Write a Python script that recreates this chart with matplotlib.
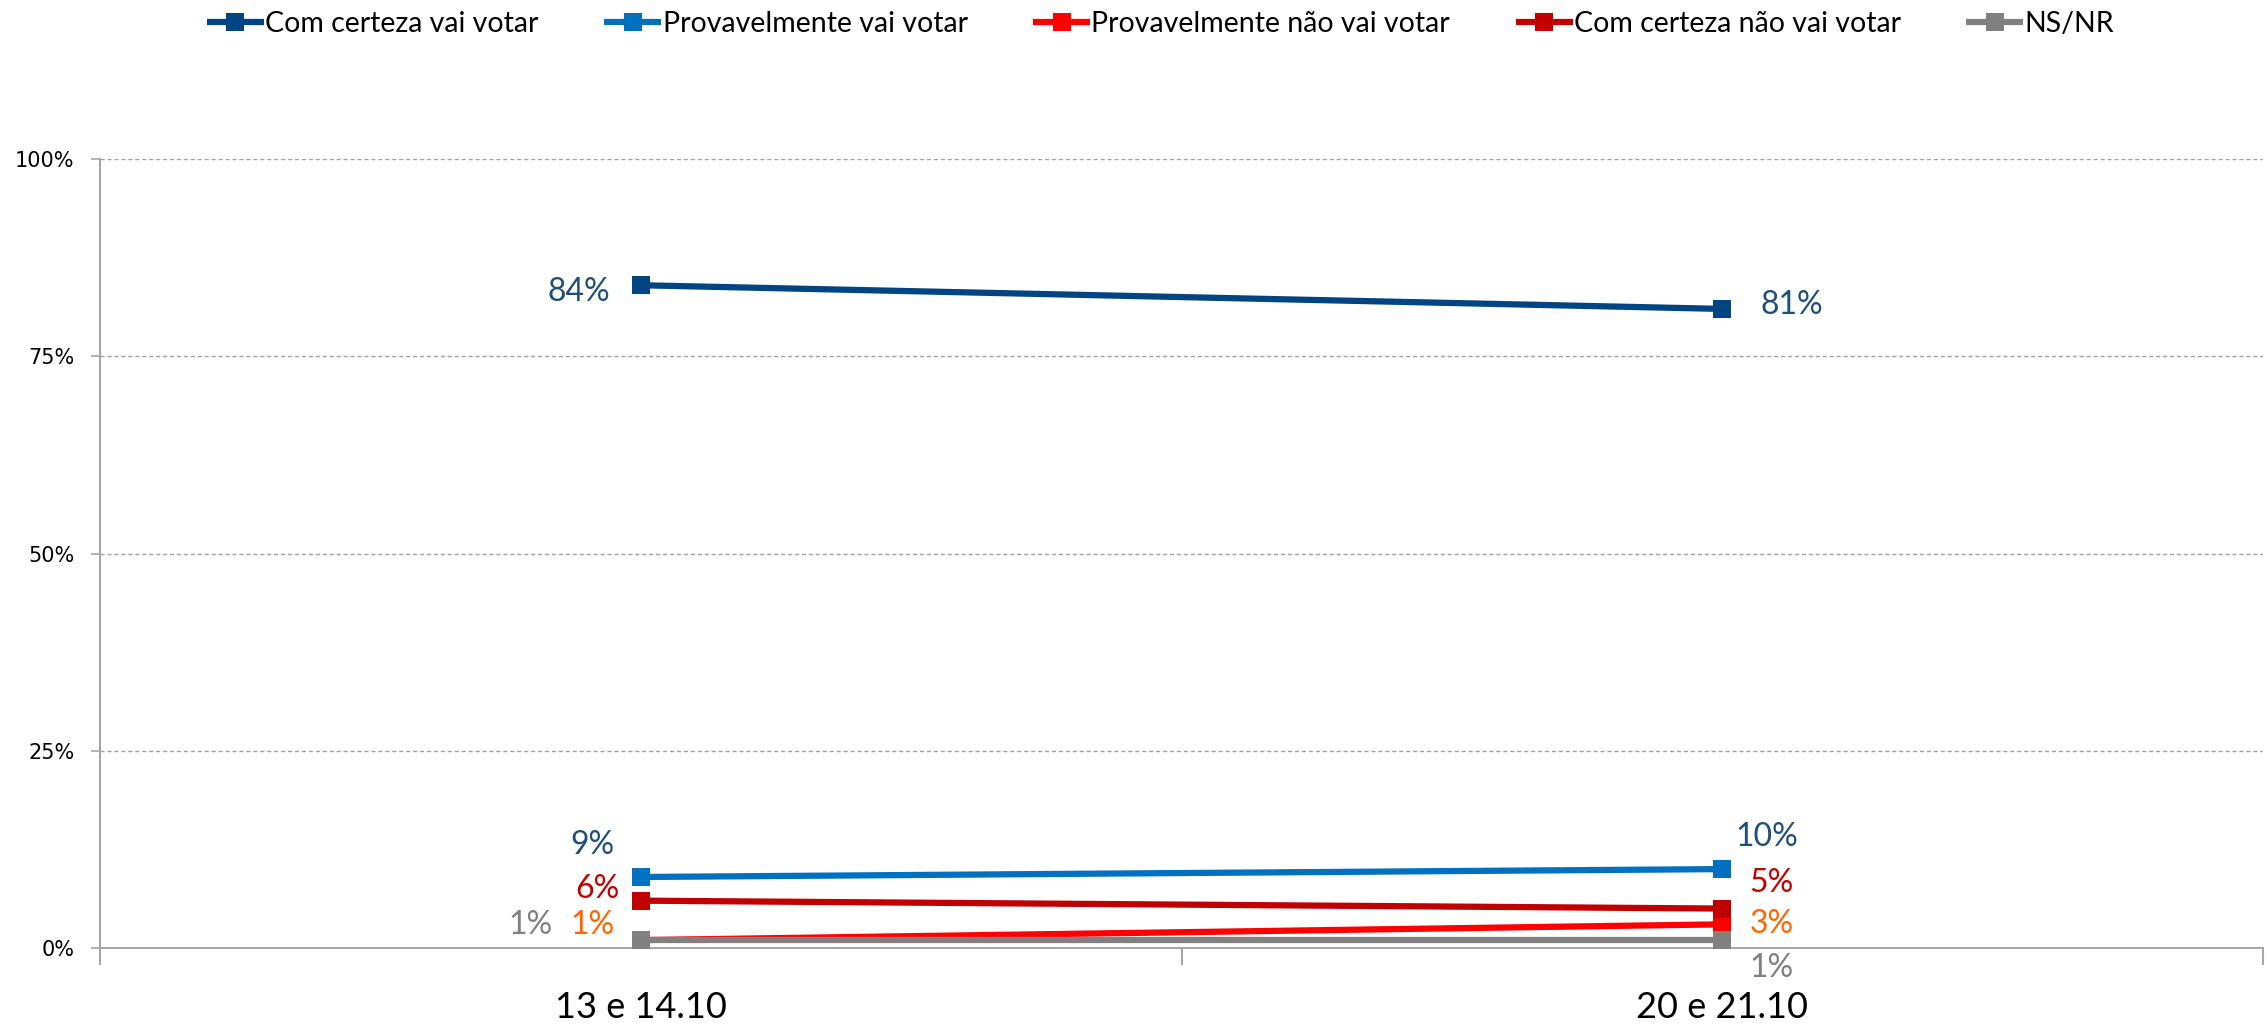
import matplotlib
matplotlib.use('Agg')
import matplotlib.pyplot as plt
from matplotlib.ticker import FixedLocator, NullFormatter, FixedFormatter

# ---------------- data ----------------
categories = ['13 e 14.10', '20 e 21.10']
series_names = ['Com certeza vai votar', 'Provavelmente vai votar',
                'Provavelmente não vai votar', 'Com certeza não vai votar', 'NS/NR']
com_certeza_vai = [84, 81]
provavelmente_vai = [9, 10]
provavelmente_nao = [1, 3]
com_certeza_nao = [6, 5]
ns_nr = [1, 1]
y_ticks = [0, 25, 50, 75, 100]
y_tick_labels = ['0%', '25%', '50%', '75%', '100%']

series_values = [com_certeza_vai, provavelmente_vai, provavelmente_nao, com_certeza_nao, ns_nr]

# ---------------- style ----------------
line_colors = ['#004481', '#0070C0', '#FF0000', '#C00000', '#808080']
label_colors = ['#1F4E79', '#1F4E79', '#FF6600', '#C00000', '#808080']
# label offsets in pixels (dx, dy of text centre), and horizontal alignment per point
label_offsets = [
    [(-31, -7, 'right'), (38, 4, 'left')],
    [(-26, 32, 'right'), (13, 32, 'left')],
    [(-26, 15, 'right'), (27, 0, 'left')],
    [(-21, 12, 'right'), (27, 26, 'left')],
    [(-88, 15, 'right'), (27, -28, 'left')],
]

LABEL_FONT = ['Lato', 'DejaVu Sans']
grey = '#A6A6A6'

fig = plt.figure(figsize=(22.67, 10.24), dpi=100)
ax = fig.add_axes([100 / 2267, 1 - 948 / 1024, (2263 - 100) / 2267, (948 - 159) / 1024])

x = list(range(len(categories)))
handles = []
for name, vals, lc, lbc, offs in zip(series_names, series_values, line_colors, label_colors, label_offsets):
    h, = ax.plot(x, vals, color=lc, lw=4.5, marker='s', markersize=13.5,
                 markeredgewidth=0, label=name, solid_capstyle='butt', clip_on=False, zorder=3)
    handles.append(h)
    for xi, v, (dx, dy, ha) in zip(x, vals, offs):
        ax.annotate(f'{v}%', (xi, v), xytext=(dx, dy), textcoords='offset pixels',
                    ha=ha, va='center', color=lbc, fontsize=23, family=LABEL_FONT, zorder=4)

ax.set_xlim(-0.5, len(categories) - 0.5)
ax.set_ylim(0, 100)

# x axis: boundary ticks (major) and category labels (minor)
ax.xaxis.set_major_locator(FixedLocator([-0.5 + i for i in range(len(categories) + 1)]))
ax.xaxis.set_major_formatter(NullFormatter())
ax.xaxis.set_minor_locator(FixedLocator(x))
ax.xaxis.set_minor_formatter(FixedFormatter(categories))
ax.tick_params(axis='x', which='major', length=12, width=1.5, color=grey, direction='out')
ax.tick_params(axis='x', which='minor', length=0, pad=31, labelsize=26)
for t in ax.xaxis.get_minorticklabels():
    t.set_family(LABEL_FONT)

ax.yaxis.set_major_locator(FixedLocator(y_ticks))
ax.yaxis.set_major_formatter(FixedFormatter(y_tick_labels))
ax.tick_params(axis='y', length=6.5, width=1.2, color=grey, direction='out', pad=12,
               labelsize=15)
for t in ax.get_yticklabels():
    t.set_family('DejaVu Sans')

ax.yaxis.grid(True, linestyle=(0, (3, 2)), color='#A0A0A0', lw=1)
ax.set_axisbelow(True)

for s in ['top', 'right']:
    ax.spines[s].set_visible(False)
for s in ['left', 'bottom']:
    ax.spines[s].set_color(grey)
    ax.spines[s].set_linewidth(1.5)

leg = fig.legend(handles=handles, loc='center', bbox_to_anchor=(0.512, 0.977), ncol=5,
                 frameon=False, handlelength=2.0, handletextpad=0.05,
                 columnspacing=2.3, prop={'family': LABEL_FONT, 'size': 20.5})

fig.savefig('out.png', dpi=100)
